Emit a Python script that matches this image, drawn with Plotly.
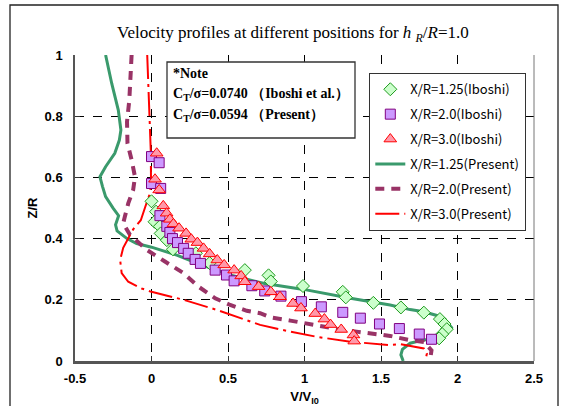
import plotly.graph_objects as go

# ---------------- data ----------------
dia_x = [0.00, 0.03, 0.02, 0.055, 0.06, 0.10, 0.14, 0.29, 0.38, 0.61, 0.765, 0.78, 0.99,
         1.25, 1.27, 1.45, 1.63, 1.78, 1.885, 1.915, 1.93, 1.90, 1.88]
dia_y = [0.522, 0.488, 0.455, 0.440, 0.417, 0.395, 0.365, 0.352, 0.320, 0.297, 0.280, 0.260, 0.245,
         0.226, 0.208, 0.190, 0.175, 0.158, 0.137, 0.121, 0.104, 0.088, 0.074]

sq_x = [0.0, 0.05, 0.0, 0.06, 0.055, 0.10, 0.12, 0.137, 0.17, 0.21, 0.24, 0.285, 0.32, 0.416,
        0.49, 0.54, 0.656, 0.74, 0.846, 0.98, 1.11, 1.25, 1.365, 1.49, 1.62, 1.75, 1.83]
sq_y = [0.668, 0.648, 0.580, 0.564, 0.475, 0.440, 0.420, 0.400, 0.387, 0.368, 0.352, 0.332, 0.319, 0.297,
        0.281, 0.262, 0.246, 0.229, 0.212, 0.194, 0.177, 0.159, 0.140, 0.121, 0.106, 0.088, 0.071]

tri_x = [0.034, 0.023, 0.05, 0.077, 0.099, 0.12, 0.143, 0.18, 0.226, 0.26, 0.30, 0.34, 0.38, 0.43,
         0.475, 0.54, 0.586, 0.61, 0.70, 0.78, 0.84, 0.925, 0.977, 1.07, 1.13, 1.17, 1.24, 1.32, 1.325]
tri_y = [0.679, 0.594, 0.559, 0.507, 0.483, 0.463, 0.448, 0.434, 0.417, 0.398, 0.387, 0.368, 0.350, 0.330,
         0.314, 0.297, 0.278, 0.259, 0.243, 0.226, 0.210, 0.188, 0.173, 0.155, 0.137, 0.119, 0.103, 0.085, 0.065]

g_x = [-0.30, -0.26, -0.217, -0.20, -0.21, -0.24, -0.30, -0.337, -0.32, -0.30, -0.25, -0.215, -0.235,
       -0.225, -0.16, -0.097, 0.0, 0.165, 0.30, 0.514, 0.73, 0.994, 1.30, 1.56, 1.69, 1.78, 1.87, 1.93,
       1.96, 1.92, 1.87, 1.78, 1.69, 1.64, 1.63, 1.645]
g_y = [1.0, 0.907, 0.82, 0.755, 0.722, 0.679, 0.635, 0.602, 0.57, 0.537, 0.499, 0.475, 0.445,
       0.425, 0.400, 0.384, 0.372, 0.346, 0.319, 0.281, 0.254, 0.234, 0.205, 0.183, 0.168, 0.161, 0.148, 0.128,
       0.110, 0.092, 0.074, 0.069, 0.058, 0.038, 0.020, 0.0]

p_x = [-0.13, -0.145, -0.16, -0.157, -0.13, -0.108, -0.12, -0.152, -0.174, -0.185, -0.14, -0.03, 0.088,
       0.21, 0.307, 0.416, 0.514, 0.623, 0.71, 0.776, 0.907, 1.06, 1.21, 1.34, 1.56, 1.68, 1.78, 1.83, 1.82]
p_y = [1.0, 0.853, 0.782, 0.711, 0.657, 0.602, 0.559, 0.515, 0.472, 0.45, 0.412, 0.363, 0.325,
       0.287, 0.243, 0.205, 0.183, 0.164, 0.156, 0.143, 0.132, 0.118, 0.105, 0.096, 0.082, 0.069, 0.062, 0.035, 0.0]

r_x = [-0.028, -0.021, -0.014, -0.005, -0.003, -0.01, -0.04, -0.07, -0.12, -0.15, -0.185, -0.205, -0.195,
       -0.152, -0.064, 0.0, 0.21, 0.427, 0.58, 0.71, 0.86, 1.08, 1.30, 1.56, 1.63, 1.71, 1.78, 1.80, 1.79]
r_y = [1.0, 0.907, 0.798, 0.69, 0.58, 0.548, 0.505, 0.46, 0.43, 0.40, 0.37, 0.33, 0.287,
       0.259, 0.237, 0.226, 0.20, 0.167, 0.14, 0.118, 0.101, 0.079, 0.063, 0.052, 0.055, 0.047, 0.041, 0.025, 0.0]

x_ticks = [-0.5, 0, 0.5, 1, 1.5, 2, 2.5]
x_tick_text = ["-0.5", "0", "0.5", "1", "1.5", "2", "2.5"]
y_ticks = [0, 0.2, 0.4, 0.6, 0.8, 1]
y_tick_text = ["0", "0.2", "0.4", "0.6", "0.8", "1"]

legend_names = ["X/R=1.25(Iboshi)", "X/R=2.0(Iboshi)", "X/R=3.0(Iboshi)",
                "X/R=1.25(Present)", "X/R=2.0(Present)", "X/R=3.0(Present)"]

# ---------------- figure ----------------
fig = go.Figure()

fig.add_trace(go.Scatter(x=g_x, y=g_y, mode="lines", name=legend_names[3], legendrank=4,
                         legendgroup="g4", line=dict(color="#3A9A6C", width=3)))
fig.add_trace(go.Scatter(x=p_x, y=p_y, mode="lines", name=legend_names[4], legendrank=5,
                         legendgroup="g5", line=dict(color="#993366", width=4, dash="9px,7px")))
fig.add_trace(go.Scatter(x=r_x, y=r_y, mode="lines", name=legend_names[5], legendrank=6,
                         legendgroup="g6", line=dict(color="#FF0000", width=2, dash="24px,5px,3px,5px")))

fig.add_trace(go.Scatter(x=dia_x, y=dia_y, mode="markers", name=legend_names[0], legendrank=1,
                         legendgroup="g1",
                         marker=dict(symbol="diamond", size=10, color="#CCFFCC",
                                     line=dict(color="#1E9A1E", width=1))))
fig.add_trace(go.Scatter(x=sq_x, y=sq_y, mode="markers", name=legend_names[1], legendrank=2,
                         legendgroup="g2",
                         marker=dict(symbol="square", size=10, color="#CC99FF",
                                     line=dict(color="#800080", width=1))))
fig.add_trace(go.Scatter(x=tri_x, y=tri_y, mode="markers", name=legend_names[2], legendrank=3,
                         legendgroup="g3",
                         marker=dict(symbol="triangle-up", size=11, color="#FF99AA",
                                     line=dict(color="#FF0000", width=1))))

L, R, T, B = 75, 33, 55, 45
W, H = 567, 406
pw, ph = W - L - R, H - T - B


def px_x(p):
    return (p - L) / pw


def px_y(p):
    return (H - B - p) / ph


axis_font = dict(family="Liberation Sans, Arial, sans-serif", size=13, color="black")

fig.update_layout(
    width=W, height=H,
    margin=dict(l=L, r=R, t=T, b=B, autoexpand=False),
    paper_bgcolor="white", plot_bgcolor="white",
    showlegend=True,
    legend=dict(x=px_x(369), y=px_y(73), xanchor="left", yanchor="top",
                bgcolor="white", bordercolor="#333", borderwidth=1.3,
                font=dict(family="Noto Sans CJK JP, sans-serif", size=13, color="black"),
                tracegroupgap=5, itemwidth=30),
    xaxis=dict(range=[-0.5, 2.5], tickvals=x_ticks, ticktext=x_tick_text,
               showgrid=True, gridcolor="black", griddash="dash", gridwidth=1,
               zeroline=False, showline=True, linecolor="#555", linewidth=2.5,
               ticks="inside", ticklen=5, tickcolor="#333", automargin=False,
               tickfont=dict(family="Liberation Sans, Arial, sans-serif", size=13, color="black", weight="bold"),
               ticklabelstandoff=4,
               title=dict(text="<b>V/V<sub>I0</sub></b>", font=axis_font, standoff=8)),
    yaxis=dict(range=[0, 1], tickvals=y_ticks, ticktext=y_tick_text,
               showgrid=True, gridcolor="black", griddash="dash", gridwidth=1,
               zeroline=False, showline=True, linecolor="#555", linewidth=1.5,
               ticks="inside", ticklen=5, tickcolor="#333", automargin=False,
               tickfont=dict(family="Liberation Sans, Arial, sans-serif", size=13, color="black", weight="bold"),
               ticklabelstandoff=8,
               title=dict(text="<b>Z/R</b>", font=axis_font, standoff=4)),
)

# outer frame and right plot edge
fig.add_shape(type="rect", xref="paper", yref="paper",
              x0=px_x(10), x1=px_x(558), y0=px_y(420), y1=px_y(5),
              line=dict(color="#222", width=1.3), fillcolor="rgba(0,0,0,0)", layer="below")
fig.add_shape(type="line", xref="paper", yref="paper",
              x0=1, x1=1, y0=0, y1=1, line=dict(color="#777", width=1))

# title
fig.add_annotation(xref="paper", yref="paper", x=px_x(293), y=px_y(34), showarrow=False,
                   xanchor="center", yanchor="middle",
                   text="Velocity profiles at different positions for <i>h</i> <sub><i>R</i></sub>/<i>R</i>=1.0",
                   font=dict(family="Liberation Serif, Times New Roman, serif", size=17, color="black"))

# note box
fig.add_shape(type="rect", xref="paper", yref="paper",
              x0=px_x(167), x1=px_x(355), y0=px_y(138), y1=px_y(62),
              line=dict(color="#333", width=1.3), fillcolor="white")
note_font = dict(family="Liberation Serif, Times New Roman, serif", size=14, color="black")
note_lines = ["<b>*Note</b>",
              "<b>C<sub>T</sub>/σ=0.0740 （Iboshi et al.）</b>",
              "<b>C<sub>T</sub>/σ=0.0594 （Present）</b>"]
for txt, yy in zip(note_lines, [73, 94, 116]):
    fig.add_annotation(xref="paper", yref="paper", x=px_x(171), y=px_y(yy), xanchor="left",
                       yanchor="middle", showarrow=False, text=txt, font=note_font)

fig.write_html("out.html")
